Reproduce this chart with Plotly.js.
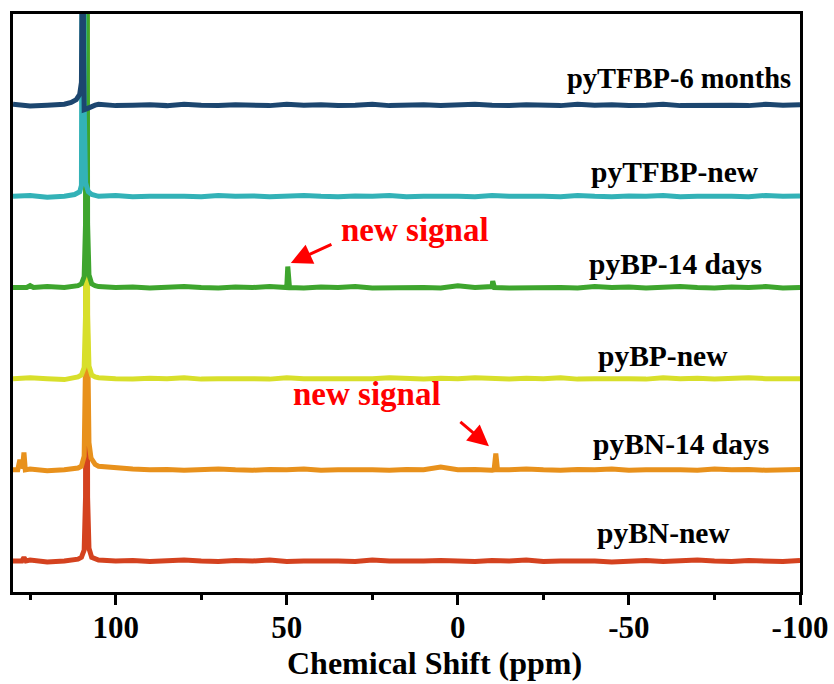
<!DOCTYPE html>
<html>
<head>
<meta charset="utf-8">
<script src="https://cdn.plot.ly/plotly-3.0.1.min.js"></script>
<style>
  html, body { margin: 0; padding: 0; background: #fff; }
  #chart { width: 834px; height: 684px; }
</style>
</head>
<body>
<div id="chart"></div>
<script>
// 1H-decoupled NMR spectra, stacked with a constant vertical offset.

// Shared baseline sampling grid (ppm)
const gridPpm = [105,100,95,90,85,80,75,70,65,60,55,50,45,40,35,30,25,20,15,10,5,0,
                 -5,-10,-15,-20,-25,-30,-35,-40,-45,-50,-55,-60,-65,-70,-75,-80,-85,-90,-95,-100];

// Series names (bottom to top)
const seriesNames = ['pyBN-new','pyBN-14 days','pyBP-new','pyBP-14 days','pyTFBP-new','pyTFBP-6 months'];

// pyBN-new
const bnNewHeadPpm = [130,127.4,126.8,126.2,125,120,115,111,110,109.2,108.8,108.5,108.2,107.8,107,106];
const bnNewHeadInt = [0.0,0.0,0.04,0.0,0.01,-0.01,0.0,0.02,0.04,0.12,0.7,9,0.7,0.14,0.04,0.02];
const bnNewNoise = [0.01,0.0,0.005,-0.005,0.0,0.01,0.0,-0.005,0.005,0.0,0.01,-0.005,0.0,0.005,0.0,-0.005,0.01,0.0,-0.005,0.0,0.005,
                    0.0,-0.005,0.005,0.0,0.01,-0.005,0.0,0.005,0.0,-0.01,0.0,0.005,-0.005,0.0,0.01,0.0,-0.005,0.005,0.0,-0.005,0.005];
const bnNewExtraPpm = [];
const bnNewExtraInt = [];

// pyBN-14 days
const bn14HeadPpm = [130,128.6,128,127.4,127.2,126.8,126.4,125,120,115,111,110,109.2,108.8,108.5,108.2,107.8,107.2,106.5,106];
const bn14HeadInt = [0.0,0.0,0.11,0.02,0.03,0.19,0.0,0.01,-0.01,0.0,0.02,0.04,0.15,1.2,9,1.5,0.3,0.13,0.08,0.06];
const bn14Noise = [0.04,0.02,0.01,0.0,0.005,-0.005,0.0,0.01,0.0,-0.005,0.005,0.0,0.01,-0.005,0.0,0.005,0.0,-0.005,0.005,0.0,0.03,
                   0.0,0.005,-0.005,0.0,0.01,0.0,-0.005,0.005,0.0,0.01,-0.005,0.0,0.005,0.0,-0.005,0.01,0.0,0.005,-0.005,0.0,0.005];
const bn14ExtraPpm = [-10.6,-11.1,-11.6];
const bn14ExtraInt = [0.0,0.18,0.0];

// pyBP-new
const bpNewHeadPpm = [130,125,120,115,111,110,109.2,108.8,108.5,108.2,107.8,107,106];
const bpNewHeadInt = [0.0,0.01,0.0,-0.01,0.02,0.04,0.12,0.7,9,0.7,0.14,0.04,0.02];
const bpNewNoise = [0.01,0.0,-0.005,0.005,0.0,0.01,-0.005,0.0,0.005,0.0,-0.005,0.01,0.0,0.0,0.005,-0.005,0.0,0.01,0.0,-0.005,0.005,
                    0.0,0.01,0.0,-0.005,0.005,0.0,0.01,-0.005,0.0,0.005,0.0,-0.005,0.01,0.0,0.005,-0.005,0.0,0.01,0.0,-0.005,0.0];
const bpNewExtraPpm = [];
const bpNewExtraInt = [];

// pyBP-14 days
const bp14HeadPpm = [130,126,125,124,120,115,111,110,109.2,108.8,108.5,108.2,107.8,107,106];
const bp14HeadInt = [0.0,0.0,0.02,0.0,0.01,0.0,0.02,0.04,0.12,0.7,9,0.7,0.14,0.04,0.02];
const bp14Noise = [0.01,0.0,0.005,-0.005,0.0,0.01,0.0,-0.005,0.005,0.0,0.01,0.0,-0.005,0.005,0.0,0.01,-0.005,0.0,0.005,0.0,-0.005,
                   0.02,0.0,0.01,-0.005,0.0,0.005,0.0,-0.005,0.01,0.0,0.005,-0.005,0.0,0.01,0.0,-0.005,0.005,0.0,0.01,-0.005,0.0];
const bp14ExtraPpm = [50.2,49.7,49.2,-9.7,-10.2,-10.7];
const bp14ExtraInt = [0.0,0.23,0.0,0.0,0.07,0.0];

// pyTFBP-new
const tfNewHeadPpm = [130,125,120,115,112,110.5,110,109.6,109.4,109.2,108.8,108,107,106];
const tfNewHeadInt = [0.0,0.01,-0.01,0.0,0.02,0.05,0.12,1.5,9,1.0,0.15,0.05,0.02,0.01];
const tfNewNoise = [0.0,0.01,-0.005,0.0,0.005,0.0,-0.005,0.01,0.0,0.005,-0.005,0.0,0.01,0.0,-0.005,0.005,0.0,0.01,-0.005,0.0,0.005,
                    0.0,-0.005,0.01,0.0,0.005,0.0,-0.005,0.01,0.0,-0.005,0.005,0.0,0.01,-0.005,0.0,0.005,0.0,-0.005,0.01,0.0,0.005];
const tfNewExtraPpm = [];
const tfNewExtraInt = [];

// pyTFBP-6 months
const tf6HeadPpm = [130,125,120,115,113,111.5,110.5,110,109.8,109.6,109.4,109.2,108.5,107.5,106];
const tf6HeadInt = [0.01,-0.01,0.0,0.01,0.03,0.06,0.12,0.25,1.2,9,0.6,-0.05,-0.04,-0.02,0.0];
const tf6Noise = [0.01,-0.005,0.0,0.005,-0.005,0.01,0.0,-0.005,0.005,0.0,-0.005,0.01,0.0,0.005,-0.005,0.0,0.01,-0.005,0.0,0.005,-0.005,
                  0.0,0.01,0.0,-0.005,0.005,0.0,-0.005,0.01,0.0,0.005,-0.005,0.0,0.01,-0.005,0.0,0.005,0.0,-0.005,0.01,0.0,0.005];
const tf6ExtraPpm = [];
const tf6ExtraInt = [];

const seriesColors = ['#d4421f','#e8911c','#d8df2b','#3ea52e','#33b2b7','#1c466f'];

// Axis tick values / labels
const tickVals = [100, 50, 0, -50, -100];
const tickText = ['100', '50', '0', '-50', '-100'];
const minorTickVals = [125, 75, 25, -25, -75];
const xTitle = 'Chemical Shift (ppm)';

// Label annotations: [x ppm, y above own baseline]
const labelX = [-60, -65.3, -60, -63.6, -63.4, -64.5];
const labelDy = [0.31, 0.28, 0.25, 0.26, 0.27, 0.29];
const labelSize = [29.5, 29.5, 29.5, 29.5, 29.5, 28.5];

// "new signal" call-outs: text position, arrow head, arrow tail
const calloutText = ['new signal', 'new signal'];
const calloutX = [12.6, 26.6];
const calloutY = [3.63, 1.83];
const arrowHeadX = [48.8, -9.1];
const arrowHeadY = [3.27, 1.26];
const arrowTailX = [36.5, -0.3];
const arrowTailY = [3.48, 1.54];

const spectra = [
  [bnNewHeadPpm, bnNewHeadInt, bnNewNoise, bnNewExtraPpm, bnNewExtraInt],
  [bn14HeadPpm, bn14HeadInt, bn14Noise, bn14ExtraPpm, bn14ExtraInt],
  [bpNewHeadPpm, bpNewHeadInt, bpNewNoise, bpNewExtraPpm, bpNewExtraInt],
  [bp14HeadPpm, bp14HeadInt, bp14Noise, bp14ExtraPpm, bp14ExtraInt],
  [tfNewHeadPpm, tfNewHeadInt, tfNewNoise, tfNewExtraPpm, tfNewExtraInt],
  [tf6HeadPpm, tf6HeadInt, tf6Noise, tf6ExtraPpm, tf6ExtraInt]
];

// Vertical spacing between stacked spectra
const stackStep = 1.0;

function buildSpectrum(s) {
  const pts = [];
  s[0].forEach((p, i) => pts.push([p, s[1][i]]));
  gridPpm.forEach((p, i) => pts.push([p, s[2][i]]));
  s[3].forEach((p, i) => pts.push([p, s[4][i]]));
  pts.sort((a, b) => b[0] - a[0]);
  return pts;
}

const traces = spectra.map((s, k) => {
  const pts = buildSpectrum(s);
  return {
    type: 'scatter',
    mode: 'lines',
    name: seriesNames[k],
    x: pts.map(p => p[0]),
    y: pts.map(p => p[1] + k * stackStep),
    line: { color: seriesColors[k], width: 5 },
    hoverinfo: 'skip',
    showlegend: false
  };
});

const serif = 'Liberation Serif, Times New Roman, serif';

const annotations = [];
seriesNames.forEach((n, k) => {
  annotations.push({
    x: labelX[k], y: k * stackStep + labelDy[k], xref: 'x', yref: 'y',
    text: n, showarrow: false, xanchor: 'center', yanchor: 'middle',
    font: { family: serif, size: labelSize[k], color: '#000', weight: 'bold' }
  });
});
calloutText.forEach((t, i) => {
  annotations.push({
    x: calloutX[i], y: calloutY[i], xref: 'x', yref: 'y',
    text: t, showarrow: false, xanchor: 'center', yanchor: 'middle',
    font: { family: serif, size: 33, color: '#ff0000', weight: 'bold' }
  });
  annotations.push({
    x: arrowHeadX[i], y: arrowHeadY[i], xref: 'x', yref: 'y',
    ax: arrowTailX[i], ay: arrowTailY[i], axref: 'x', ayref: 'y',
    text: '', showarrow: true, arrowhead: 2, arrowsize: 1.4, arrowwidth: 3,
    arrowcolor: '#ff0000'
  });
});
// x-axis title, sitting slightly right of the plot centre
annotations.push({
  x: 0.536, y: 0, xref: 'paper', yref: 'paper', yshift: -71,
  text: xTitle, showarrow: false, xanchor: 'center', yanchor: 'middle',
  font: { family: serif, size: 32, color: '#000', weight: 'bold' }
});

const layout = {
  width: 834, height: 684,
  margin: { l: 13, r: 34, t: 14, b: 92 },
  paper_bgcolor: '#fff', plot_bgcolor: '#fff',
  showlegend: false,
  xaxis: {
    range: [130, -100], autorange: false,
    showgrid: false, zeroline: false,
    showline: true, linecolor: '#000', linewidth: 3, mirror: true,
    ticks: 'outside', ticklen: 10, tickwidth: 3, tickcolor: '#000',
    tickvals: tickVals, ticktext: tickText, ticklabelstandoff: -4,
    minor: { tickvals: minorTickVals, ticks: 'outside', ticklen: 5, tickwidth: 3, tickcolor: '#000' },
    tickfont: { family: serif, size: 31, color: '#000', weight: 'bold' },
    automargin: false
  },
  yaxis: {
    range: [-0.34, 6.0], autorange: false,
    showgrid: false, zeroline: false, showticklabels: false, ticks: '',
    showline: true, linecolor: '#000', linewidth: 3, mirror: true,
    automargin: false
  },
  annotations: annotations
};

Plotly.newPlot('chart', traces, layout, { staticPlot: true, displayModeBar: false });
</script>
</body>
</html>
